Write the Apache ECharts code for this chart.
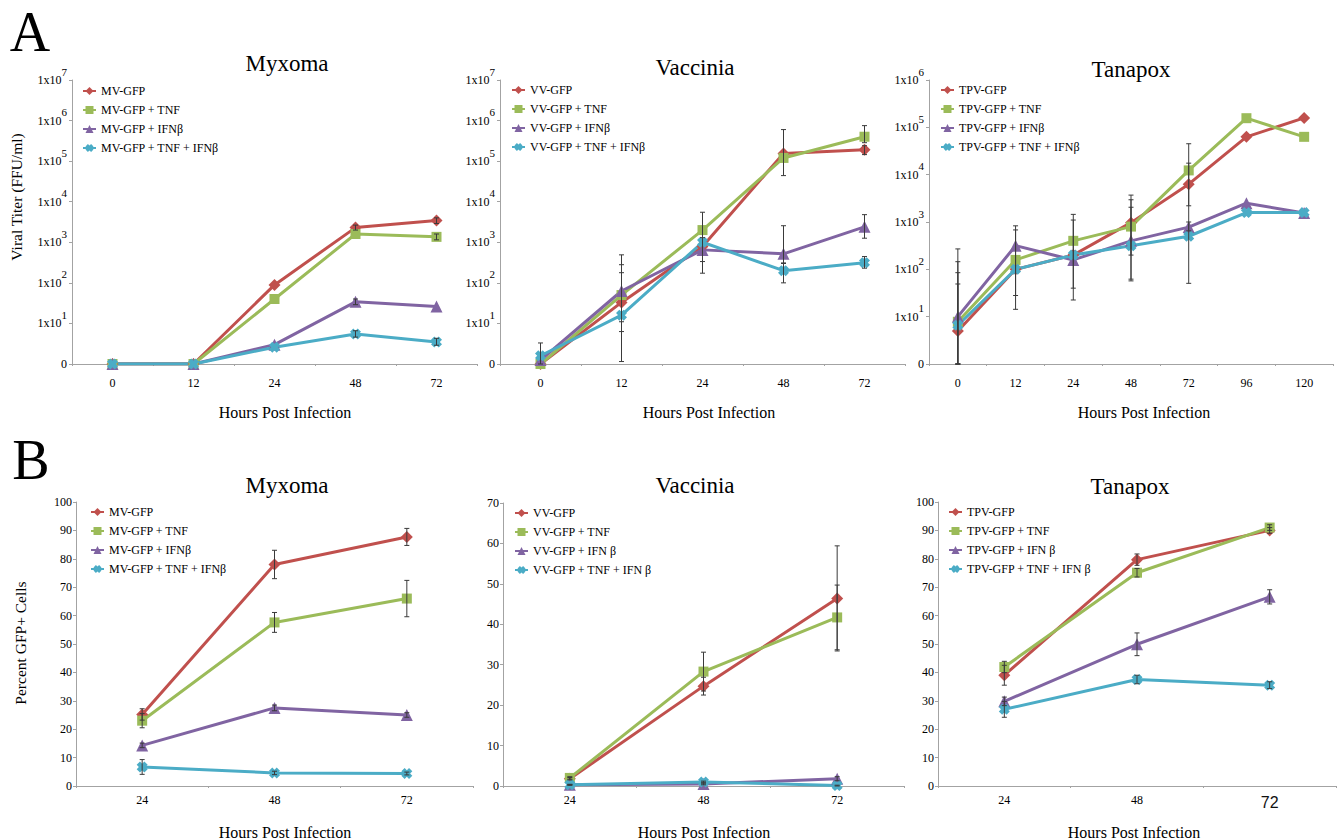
<!DOCTYPE html>
<html><head><meta charset="utf-8">
<script src="https://cdn.jsdelivr.net/npm/echarts@6/dist/echarts.min.js"></script>
<style>html,body{margin:0;padding:0;background:#fff}#c{width:1342px;height:839px}</style>
</head><body><div id="c"></div>
<script>
// ================= DATA =================
// Panel A: viral titer (FFU/ml), log axis; "0" on the axis is 10^0 = 1
const myxA_hours = ['0', '12', '24', '48', '72'];
const myxA_names = ['MV-GFP', 'MV-GFP + TNF', 'MV-GFP + IFNβ', 'MV-GFP + TNF + IFNβ'];
const myxA_gfp  = [1, 1, 89, 2300, 3450];
const myxA_tnf  = [1, 1, 40, 1600, 1360];
const myxA_ifn  = [1, 1, 3.0, 34, 26];
const myxA_both = [1, 1, 2.6, 5.5, 3.5];
const myxA_gfp_err  = [null, null, null, [2000, 2650], [2900, 4000]];
const myxA_tnf_err  = [null, null, null, null, [1150, 1600]];
const myxA_ifn_err  = [null, null, null, [29, 40], null];
const myxA_both_err = [null, null, null, [4.6, 6.6], [2.9, 4.3]];

const vacA_hours = ['0', '12', '24', '48', '72'];
const vacA_names = ['VV-GFP', 'VV-GFP + TNF', 'VV-GFP + IFNβ', 'VV-GFP + TNF + IFNβ'];
const vacA_gfp  = [1, 33, 790, 155000, 190000];
const vacA_tnf  = [1, 50, 2000, 120000, 400000];
const vacA_ifn  = [1.25, 63, 650, 520, 2400];
const vacA_both = [1.6, 16, 1000, 200, 315];
const vacA_gfp_err  = [null, null, [335, 1300], null, [145000, 240000]];
const vacA_tnf_err  = [null, [11, 178], [173, 5500], [44000, 600000], [285000, 750000]];
const vacA_ifn_err  = [null, [6.3, 490], null, [300, 2560], [1260, 4800]];
const vacA_both_err = [[1, 3.3], [1.15, 280], null, [100, 310], [230, 445]];

const tanA_hours = ['0', '12', '24', '48', '72', '96', '120'];
const tanA_names = ['TPV-GFP', 'TPV-GFP + TNF', 'TPV-GFP + IFNβ', 'TPV-GFP + TNF + IFNβ'];
const tanA_gfp  = [5, 100, 200, 970, 6300, 63000, 158000];
const tanA_tnf  = [7.8, 158, 400, 800, 12300, 156000, 63000];
const tanA_ifn  = [10, 316, 158, 400, 780, 2500, 1550];
const tanA_both = [6.6, 100, 200, 316, 500, 1580, 1580];
const tanA_gfp_err  = [[1, 49], null, [22.5, 1100], [57, 3700], [2200, 17500], null, null];
const tanA_tnf_err  = [[1, 145], [28, 680], [40, 1450], [62, 2950], [50.6, 45000], null, null];
const tanA_ifn_err  = [[1, 270], [14.3, 830], null, [200, 2050], [650, 1000], null, null];
const tanA_both_err = [[1, 85], null, null, null, null, null, null];

// Panel B: percent GFP+ cells, with ± error
const myxB_hours = ['24', '48', '72'];
const myxB_names = ['MV-GFP', 'MV-GFP + TNF', 'MV-GFP + IFNβ', 'MV-GFP + TNF + IFNβ'];
const myxB_gfp  = [25.2, 78, 87.7];
const myxB_tnf  = [23, 57.6, 66];
const myxB_ifn  = [14.3, 27.5, 25];
const myxB_both = [6.7, 4.6, 4.4];
const myxB_gfp_err  = [2, 5, 3];
const myxB_tnf_err  = [2.5, 3.5, 6.4];
const myxB_ifn_err  = [0.8, 1, 0.8];
const myxB_both_err = [2.6, 0.6, 0.5];

const vacB_hours = ['24', '48', '72'];
const vacB_names = ['VV-GFP', 'VV-GFP + TNF', 'VV-GFP + IFN β', 'VV-GFP + TNF + IFN β'];
const vacB_gfp  = [1.8, 24.7, 46.4];
const vacB_tnf  = [2.0, 28.3, 41.7];
const vacB_ifn  = [0.3, 0.5, 1.8];
const vacB_both = [0.3, 1.0, 0.1];
const vacB_gfp_err  = [0.3, 2.2, 13];
const vacB_tnf_err  = [0.3, 4.8, 8];
const vacB_ifn_err  = [0.1, 0.2, 0.5];
const vacB_both_err = [0.1, 0.2, 0.1];

const tanB_hours = ['24', '48', '72'];
const tanB_names = ['TPV-GFP', 'TPV-GFP + TNF', 'TPV-GFP + IFN β', 'TPV-GFP + TNF + IFN β'];
const tanB_gfp  = [39, 79.7, 90];
const tanB_tnf  = [41.9, 75.1, 91];
const tanB_ifn  = [29.8, 49.9, 66.6];
const tanB_both = [27, 37.5, 35.5];
const tanB_gfp_err  = [3.5, 2, 1];
const tanB_tnf_err  = [2, 1.5, 1];
const tanB_ifn_err  = [1.5, 4, 2.5];
const tanB_both_err = [2.8, 1.5, 1.2];

const titles = ['Myxoma', 'Vaccinia', 'Tanapox'];

// ================= STYLE / BUILD =================
const COLORS = ['#C0504D', '#9BBB59', '#8064A2', '#4BACC6'];
const SYMBOLS = ['diamond', 'rect', 'triangle',
  'path://M0,3 L3,0 L5,2 L7,0 L10,3 L8,5 L10,7 L7,10 L5,8 L3,10 L0,7 L2,5 Z'];
const SIZES = [12, 10, 12, 11];
const SERIF = 'Liberation Serif';
const AXIS_COLOR = '#a3a3a3';

const panels = [
  {hours: myxA_hours, names: myxA_names, vals: [myxA_gfp, myxA_tnf, myxA_ifn, myxA_both],
   errs: [myxA_gfp_err, myxA_tnf_err, myxA_ifn_err, myxA_both_err], log: true, max: 1e7,
   grid: {left: 72, top: 80, width: 405, height: 284}, legend: {left: 82, top: 85}},
  {hours: vacA_hours, names: vacA_names, vals: [vacA_gfp, vacA_tnf, vacA_ifn, vacA_both],
   errs: [vacA_gfp_err, vacA_tnf_err, vacA_ifn_err, vacA_both_err], log: true, max: 1e7,
   grid: {left: 500, top: 80, width: 405, height: 284}, legend: {left: 511, top: 84}},
  {hours: tanA_hours, names: tanA_names, vals: [tanA_gfp, tanA_tnf, tanA_ifn, tanA_both],
   errs: [tanA_gfp_err, tanA_tnf_err, tanA_ifn_err, tanA_both_err], log: true, max: 1e6,
   grid: {left: 929, top: 80, width: 404, height: 284}, legend: {left: 940, top: 84}},
  {hours: myxB_hours, names: myxB_names, vals: [myxB_gfp, myxB_tnf, myxB_ifn, myxB_both],
   errs: [myxB_gfp_err, myxB_tnf_err, myxB_ifn_err, myxB_both_err], log: false, max: 100,
   grid: {left: 76, top: 502, width: 397, height: 284}, legend: {left: 90, top: 506}},
  {hours: vacB_hours, names: vacB_names, vals: [vacB_gfp, vacB_tnf, vacB_ifn, vacB_both],
   errs: [vacB_gfp_err, vacB_tnf_err, vacB_ifn_err, vacB_both_err], log: false, max: 70,
   grid: {left: 503, top: 503, width: 401, height: 283}, legend: {left: 514, top: 507}},
  {hours: tanB_hours, names: tanB_names, vals: [tanB_gfp, tanB_tnf, tanB_ifn, tanB_both],
   errs: [tanB_gfp_err, tanB_tnf_err, tanB_ifn_err, tanB_both_err], log: false, max: 100,
   grid: {left: 938, top: 502, width: 398, height: 284}, legend: {left: 948, top: 506}, big72: true}
];

function logFmt(v) {
  const e = Math.round(Math.log10(v));
  if (e === 0) return '{b|0}';
  return '{b|1x10}{s|' + e + '}';
}

function renderErr(params, api) {
  const x = api.value(0), lo = api.value(1), hi = api.value(2);
  const p1 = api.coord([x, hi]), p2 = api.coord([x, lo]);
  const cap = 2.5;
  const st = {stroke: '#3a3a3a', lineWidth: 1};
  return {type: 'group', children: [
    {type: 'line', shape: {x1: p1[0], y1: p1[1], x2: p2[0], y2: p2[1]}, style: st},
    {type: 'line', shape: {x1: p1[0] - cap, y1: p1[1], x2: p1[0] + cap, y2: p1[1]}, style: st},
    {type: 'line', shape: {x1: p2[0] - cap, y1: p2[1], x2: p2[0] + cap, y2: p2[1]}, style: st}
  ]};
}

const grids = [], xAxes = [], yAxes = [], series = [], legends = [];
panels.forEach((p, gi) => {
  grids.push(p.grid);
  xAxes.push({
    type: 'category', gridIndex: gi, data: p.hours, boundaryGap: true,
    axisLine: {lineStyle: {color: AXIS_COLOR, width: 1}},
    axisTick: {show: true, length: 2, lineStyle: {color: AXIS_COLOR}},
    axisLabel: p.big72 ? {
      margin: 8, color: '#000', fontFamily: SERIF, fontSize: 12,
      formatter: (v) => v === '72' ? '{big|72}' : v,
      rich: {big: {fontFamily: 'Liberation Sans', fontSize: 16, color: '#111', padding: [0, 0, 10, 0]}}
    } : {margin: p.log ? 13 : 8, color: '#000', fontFamily: SERIF, fontSize: 12},
    splitLine: {show: false}
  });
  if (p.log) {
    yAxes.push({
      type: 'log', logBase: 10, gridIndex: gi, min: 1, max: p.max,
      axisLine: {show: true, lineStyle: {color: AXIS_COLOR, width: 1}},
      axisTick: {show: true, length: 3, lineStyle: {color: AXIS_COLOR}},
      minorTick: {show: false}, splitLine: {show: false},
      axisLabel: {
        margin: 5, formatter: logFmt,
        rich: {
          b: {fontFamily: SERIF, fontSize: 12, color: '#000', lineHeight: 28, verticalAlign: 'middle'},
          s: {fontFamily: SERIF, fontSize: 11, color: '#000', lineHeight: 10, verticalAlign: 'top'}
        }
      }
    });
  } else {
    yAxes.push({
      type: 'value', gridIndex: gi, min: 0, max: p.max, interval: 10,
      axisLine: {show: true, lineStyle: {color: AXIS_COLOR, width: 1}},
      axisTick: {show: true, length: 3, lineStyle: {color: AXIS_COLOR}},
      splitLine: {show: false},
      axisLabel: {margin: 4, color: '#000', fontFamily: SERIF, fontSize: 12}
    });
  }
  p.names.forEach((name, si) => {
    const c = COLORS[si];
    series.push({
      type: 'line', name: name, data: p.vals[si], xAxisIndex: gi, yAxisIndex: gi,
      symbol: SYMBOLS[si], symbolSize: SIZES[si], showSymbol: true, color: c,
      lineStyle: {width: 3, color: c}, itemStyle: {color: c}, z: 2, animation: false
    });
    const ed = [];
    p.errs[si].forEach((e, k) => {
      if (e === null || e === undefined) return;
      if (Array.isArray(e)) ed.push([k, e[0], e[1]]);
      else ed.push([k, p.vals[si][k] - e, p.vals[si][k] + e]);
    });
    if (ed.length) {
      series.push({
        type: 'custom', name: '', xAxisIndex: gi, yAxisIndex: gi, data: ed,
        encode: {x: 0, y: [1, 2]}, renderItem: renderErr, z: 3, silent: true, animation: false
      });
    }
  });
  legends.push({
    show: true, orient: 'vertical', left: p.legend.left, top: p.legend.top,
    data: p.names, itemWidth: 13, itemHeight: 10, itemGap: 7, padding: 0,
    textStyle: {fontFamily: SERIF, fontSize: 12, color: '#000', lineHeight: 12},
    selectedMode: false
  });
});

function txt(text, x, y, size, extra) {
  return Object.assign({
    type: 'text', x: x, y: y, silent: true,
    style: {text: text, fontFamily: SERIF, fontSize: size, fill: '#000', align: 'center', verticalAlign: 'middle'}
  }, extra || {});
}
const graphics = [
  txt('A', 30, 32, 56),
  txt('B', 31, 460, 56),
  txt(titles[0], 287, 63, 23), txt(titles[1], 695, 67, 23), txt(titles[2], 1131, 69, 23),
  txt(titles[0], 287, 485, 23), txt(titles[1], 695, 485, 23), txt(titles[2], 1130, 486, 23),
  txt('Hours Post Infection', 285, 412, 16), txt('Hours Post Infection', 709, 412, 16),
  txt('Hours Post Infection', 1144, 412, 16),
  txt('Hours Post Infection', 285, 832, 16), txt('Hours Post Infection', 704, 832, 16),
  txt('Hours Post Infection', 1134, 832, 16),
  txt('Viral Titer (FFU/ml)', 16, 197, 15.5, {rotation: Math.PI / 2}),
  txt('Percent GFP+ Cells', 20, 643, 15.5, {rotation: Math.PI / 2})
];

const chart = echarts.init(document.getElementById('c'), null, {renderer: 'svg'});
chart.setOption({
  animation: false,
  backgroundColor: '#fff',
  grid: grids, xAxis: xAxes, yAxis: yAxes, series: series, legend: legends,
  graphic: graphics
});
</script>
</body></html>
